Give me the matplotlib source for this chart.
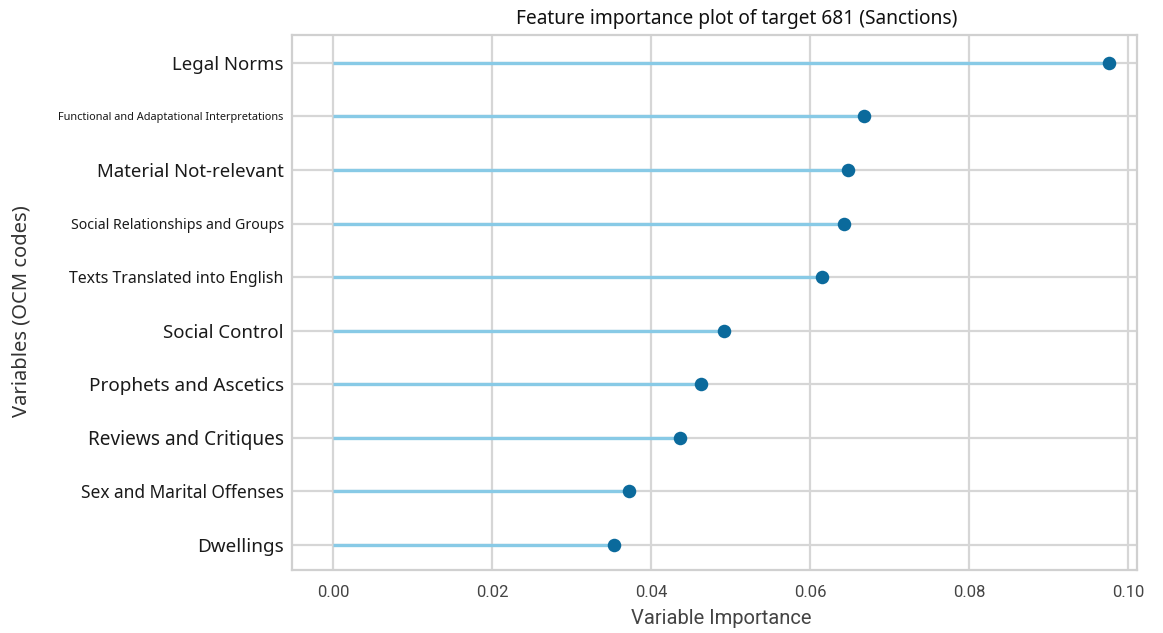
import matplotlib
matplotlib.use("Agg")
import matplotlib.pyplot as plt

# Feature importances for target 681 (Sanctions), top to bottom
variables = [
    "Legal Norms",
    "Functional and Adaptational Interpretations",
    "Material Not-relevant",
    "Social Relationships and Groups",
    "Texts Translated into English",
    "Social Control",
    "Prophets and Ascetics",
    "Reviews and Critiques",
    "Sex and Marital Offenses",
    "Dwellings",
]
importance = [0.0976, 0.0668, 0.0647, 0.0642, 0.0615,
              0.0491, 0.0463, 0.0436, 0.0372, 0.0353]
label_sizes = [13.4, 7.9, 13.4, 10.2, 11.4, 13.4, 13.6, 13.7, 12.5, 13.6]
x_ticks = [0.00, 0.02, 0.04, 0.06, 0.08, 0.10]

plt.rcParams["font.family"] = ["Noto Sans", "DejaVu Sans"]

fig = plt.figure(figsize=(11.63, 6.33), dpi=100)
ax = fig.add_axes([292 / 1163, 1 - 570 / 633, (1137 - 292) / 1163, (570 - 35) / 633])

ypos = list(range(len(variables)))[::-1]
ax.hlines(ypos, 0, importance, color="#88cae6", linewidth=2.4, zorder=2)
ax.scatter(importance, ypos, s=95, color="#0b6a9c", zorder=3, linewidths=0)

ax.set_xlim(-0.0052, 0.1011)
ax.set_ylim(-0.47, 9.52)
ax.set_yticks(ypos)
ax.set_yticklabels(variables)
for lab, fs in zip(ax.get_yticklabels(), label_sizes):
    lab.set_fontsize(fs)
    lab.set_color("#1a1a1a")

ax.set_xticks(x_ticks)
ax.set_xticklabels([f"{v:.2f}" for v in x_ticks],
                   fontfamily=["Roboto", "DejaVu Sans"], fontstretch="condensed",
                   fontsize=12, color="#444444")

ax.grid(True, color="#d6d6d6", linewidth=1.6, zorder=0)
ax.set_axisbelow(True)
for sp in ax.spines.values():
    sp.set_color("#d0d0d0")
    sp.set_linewidth(1.6)
ax.tick_params(axis="y", length=0, pad=6)
ax.tick_params(axis="x", length=0, pad=11)

ax.set_xlabel("Variable Importance", fontsize=14.5, color="#444444",
              fontfamily=["Roboto", "DejaVu Sans"], labelpad=6, x=0.508)
ax.set_ylabel("Variables (OCM codes)", fontsize=14.5, color="#333333",
              labelpad=19, y=0.484)
ax.set_title("Feature importance plot of target 681 (Sanctions)",
             fontsize=13.8, color="#111111", pad=8, x=0.526)

fig.savefig("out.png", dpi=100)
